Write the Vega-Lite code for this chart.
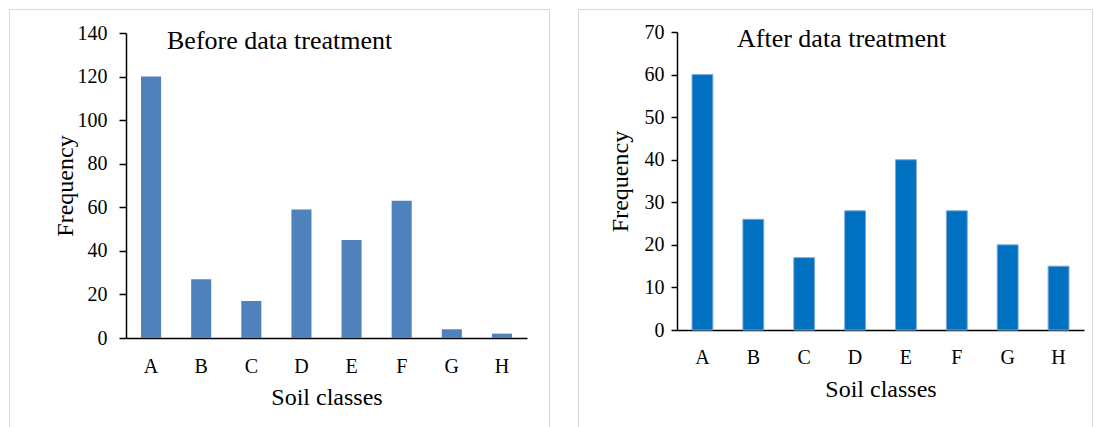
{
  "$schema": "https://vega.github.io/schema/vega-lite/v6.json",
  "padding": {"left": 8, "top": 8, "right": 0, "bottom": 0},
  "background": "white",
  "spacing": 27,
  "config": {
    "font": "Liberation Serif",
    "view": {"stroke": "#d9d9d9", "strokeWidth": 1},
    "axis": {
      "labelFont": "Liberation Serif",
      "titleFont": "Liberation Serif",
      "labelColor": "#000000",
      "titleColor": "#000000",
      "titleFontWeight": "normal",
      "grid": false,
      "domain": true,
      "domainColor": "#000000",
      "domainWidth": 1.5,
      "labelFontSize": 20,
      "titleFontSize": 24
    }
  },
  "hconcat": [
    {
      "width": 540,
      "height": 420,
      "title": {"text": "Before data treatment", "anchor": "start", "frame": "group", "orient": "top", "baseline": "alphabetic", "offset": -43, "dy": 23, "dx": 158, "fontSize": 26, "font": "Liberation Serif", "fontWeight": "normal", "color": "#000000"},
      "data": {"values": [
        {"class": "A", "frequency": 120},
        {"class": "B", "frequency": 27},
        {"class": "C", "frequency": 17},
        {"class": "D", "frequency": 59},
        {"class": "E", "frequency": 45},
        {"class": "F", "frequency": 63},
        {"class": "G", "frequency": 4},
        {"class": "H", "frequency": 2}
      ]},
      "mark": {"type": "bar", "color": "#4F81BD"},
      "encoding": {
        "x": {"field": "class", "type": "nominal", "scale": {"range": [117, 518], "paddingInner": 0.6, "paddingOuter": 0.3},
          "axis": {"title": "Soil classes", "labelAngle": 0, "ticks": false, "offset": -91, "labelPadding": 34, "labelBaseline": "alphabetic", "titleX": 317.5, "titleY": 66, "titleBaseline": "alphabetic", "titleAlign": "center"}},
        "y": {"field": "frequency", "type": "quantitative", "scale": {"domain": [0, 140], "range": [329, 24], "nice": false},
          "axis": {"title": "Frequency", "values": [0, 20, 40, 60, 80, 100, 120, 140], "offset": -117, "ticks": true, "tickSize": 7, "tickWidth": 1.5, "tickColor": "#000000", "labelPadding": 12, "titleX": -54, "titleY": 176.5, "titleBaseline": "alphabetic", "titleAlign": "center"}}
      }
    },
    {
      "width": 514,
      "height": 420,
      "title": {"text": "After data treatment", "anchor": "start", "frame": "group", "orient": "top", "baseline": "alphabetic", "offset": -42, "dy": 22, "dx": 159, "fontSize": 26, "font": "Liberation Serif", "fontWeight": "normal", "color": "#000000"},
      "data": {"values": [
        {"class": "A", "frequency": 60},
        {"class": "B", "frequency": 26},
        {"class": "C", "frequency": 17},
        {"class": "D", "frequency": 28},
        {"class": "E", "frequency": 40},
        {"class": "F", "frequency": 28},
        {"class": "G", "frequency": 20},
        {"class": "H", "frequency": 15}
      ]},
      "mark": {"type": "bar", "color": "#0070C0", "stroke": "#7FA8DA", "strokeWidth": 1},
      "encoding": {
        "x": {"field": "class", "type": "nominal", "scale": {"range": [99, 506], "paddingInner": 0.59, "paddingOuter": 0.295},
          "axis": {"title": "Soil classes", "labelAngle": 0, "ticks": false, "offset": -99, "labelPadding": 33, "labelBaseline": "alphabetic", "titleX": 302.5, "titleY": 66, "titleBaseline": "alphabetic", "titleAlign": "center"}},
        "y": {"field": "frequency", "type": "quantitative", "scale": {"domain": [0, 70], "range": [321, 23], "nice": false},
          "axis": {"title": "Frequency", "values": [0, 10, 20, 30, 40, 50, 60, 70], "offset": -99, "ticks": true, "tickSize": 6, "tickWidth": 1.5, "tickColor": "#000000", "labelPadding": 7, "titleX": -50, "titleY": 172, "titleBaseline": "alphabetic", "titleAlign": "center"}}
      }
    }
  ]
}
